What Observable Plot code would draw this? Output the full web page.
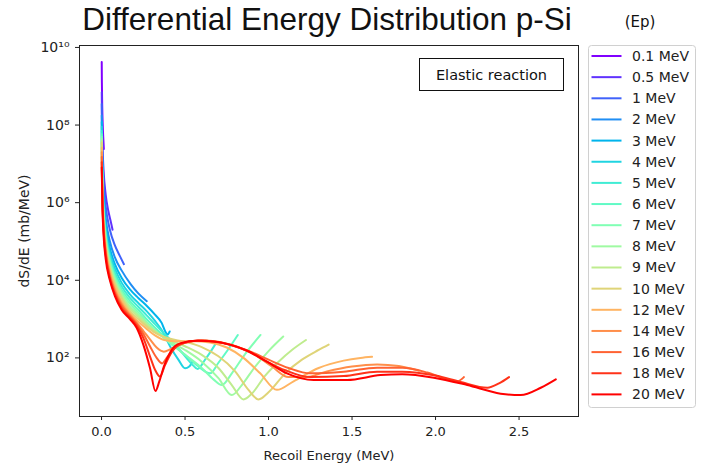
<!DOCTYPE html>
<html><head><meta charset="utf-8">
<script src="https://cdn.jsdelivr.net/npm/d3@7"></script>
<script src="https://cdn.jsdelivr.net/npm/@observablehq/plot@0.6"></script>
<style>
body{margin:0;background:#fff;}
#chart{position:relative;width:702px;height:463px;}
</style></head><body><div id="chart"></div>
<script>
// Legend labels (beam energy Ep)
const beamLabels = ["0.1 MeV","0.5 MeV","1 MeV","2 MeV","3 MeV","4 MeV","5 MeV","6 MeV","7 MeV","8 MeV","9 MeV","10 MeV","12 MeV","14 MeV","16 MeV","18 MeV","20 MeV"];
const lineColors = ["#8000ff","#6032fe","#4062fa","#208ef4","#00b4ec","#20d4e1","#40ecd4","#60fac5","#80ffb4","#9ffaa2","#bfec8e","#dfd478","#ffb462","#ff8e4a","#ff6232","#ff3219","#ff0000"];

// Recoil energy (MeV) and dS/dE (mb/MeV), one pair per Ep
const e0_1 = [0.0011, 0.002, 0.004, 0.007, 0.01, 0.0138];
const s0_1 = [4.2e9, 1.26e9, 3.1e8, 1.0e8, 5e7, 2.4e7];
const e0_5 = [0.0012, 0.003, 0.006, 0.012, 0.025, 0.04, 0.055, 0.066];
const s0_5 = [7e8, 1.12e8, 2.8e7, 7e6, 1.6e6, 6.3e5, 3.3e5, 2e5];
const e1 = [0.0012, 0.003, 0.006, 0.012, 0.025, 0.05, 0.08, 0.11, 0.134];
const s1 = [3.5e8, 5.6e7, 1.4e7, 3.5e6, 8e5, 2e5, 7.9e4, 4.2e4, 2.6e4];
const e2 = [0.0012, 0.003, 0.006, 0.012, 0.025, 0.05, 0.08, 0.12, 0.174, 0.22, 0.271];
const s2 = [1.75e8, 2.8e7, 7e6, 1.75e6, 4e5, 1e5, 3.9e4, 1.8e4, 8e3, 4.6e3, 2.9e3];
const e3 = [0.0012, 0.003, 0.006, 0.012, 0.025, 0.05, 0.08, 0.12, 0.17, 0.22, 0.27, 0.32, 0.36, 0.385, 0.395, 0.408];
const s3 = [1.2e8, 1.86e7, 4.7e6, 1.16e6, 2.7e5, 6.7e4, 2.6e4, 1.16e4, 5.8e3, 3.5e3, 2.2e3, 1.3e3, 800, 450, 400, 480];
const e4 = [0.0012, 0.003, 0.006, 0.012, 0.025, 0.05, 0.08, 0.12, 0.17, 0.22, 0.27, 0.32, 0.36, 0.41, 0.46, 0.5, 0.525, 0.544];
const s4 = [9e7, 1.4e7, 3.5e6, 8.7e5, 2.0e5, 5.0e4, 2.0e4, 8.7e3, 4.35e3, 2.6e3, 1.6e3, 900, 520, 200, 90, 54, 60, 80];
const e5 = [0.0012, 0.003, 0.006, 0.012, 0.025, 0.05, 0.08, 0.12, 0.17, 0.22, 0.27, 0.32, 0.4, 0.48, 0.54, 0.575, 0.62, 0.68];
const s5 = [7e7, 1.12e7, 2.8e6, 7e5, 1.6e5, 4e4, 1.57e4, 7e3, 3.5e3, 2.08e3, 1.25e3, 740, 330, 140, 70, 52, 90, 220];
const e6 = [0.0012, 0.003, 0.006, 0.012, 0.025, 0.05, 0.08, 0.12, 0.17, 0.22, 0.27, 0.32, 0.4, 0.5, 0.58, 0.65, 0.7, 0.76, 0.816];
const s6 = [5.8e7, 9.3e6, 2.3e6, 5.8e5, 1.34e5, 3.35e4, 1.31e4, 5.8e3, 2.9e3, 1.73e3, 1e3, 600, 280, 120, 60, 40, 75, 170, 390];
const e7 = [0.0012, 0.003, 0.006, 0.012, 0.025, 0.05, 0.08, 0.12, 0.17, 0.22, 0.27, 0.32, 0.4, 0.5, 0.6, 0.67, 0.72, 0.78, 0.85, 0.952];
const s7 = [5e7, 8e6, 2e6, 5e5, 1.15e5, 2.9e4, 1.12e4, 5e3, 2.5e3, 1.49e3, 850, 520, 260, 120, 55, 28, 20, 40, 110, 390];
const e8 = [0.0012, 0.003, 0.006, 0.012, 0.025, 0.05, 0.08, 0.12, 0.17, 0.22, 0.27, 0.32, 0.4, 0.5, 0.6, 0.7, 0.78, 0.84, 0.92, 1.0, 1.088];
const s8 = [4.4e7, 7e6, 1.75e6, 4.4e5, 1e5, 2.5e4, 9.8e3, 4.4e3, 2.1e3, 1.3e3, 780, 500, 280, 160, 80, 30, 11, 20, 60, 150, 355];
const e9 = [0.0012, 0.003, 0.006, 0.012, 0.025, 0.05, 0.08, 0.12, 0.17, 0.22, 0.27, 0.32, 0.4, 0.5, 0.6, 0.7, 0.78, 0.85, 0.9, 0.98, 1.06, 1.14, 1.224];
const s9 = [3.9e7, 6.2e6, 1.56e6, 3.9e5, 8.9e4, 2.2e4, 8.7e3, 3.9e3, 1.85e3, 1.15e3, 720, 480, 300, 200, 120, 55, 20, 8.5, 12, 35, 80, 160, 290];
const e10 = [0.0012, 0.003, 0.006, 0.012, 0.025, 0.05, 0.08, 0.12, 0.17, 0.22, 0.27, 0.32, 0.4, 0.5, 0.6, 0.7, 0.8, 0.88, 0.94, 1.0, 1.1, 1.2, 1.3, 1.36];
const s10 = [3.5e7, 5.6e6, 1.4e6, 3.5e5, 8e4, 2e4, 7.9e3, 3.5e3, 1.6e3, 1e3, 650, 450, 320, 260, 190, 110, 45, 15, 8.5, 13, 40, 90, 160, 220];
const e12 = [0.0012, 0.003, 0.006, 0.012, 0.025, 0.05, 0.08, 0.12, 0.17, 0.22, 0.27, 0.32, 0.383, 0.45, 0.55, 0.65, 0.75, 0.85, 0.95, 1.05, 1.15, 1.3, 1.45, 1.55, 1.62];
const s12 = [2.6e7, 4.7e6, 1.17e6, 2.9e5, 6.7e4, 1.68e4, 6.5e3, 2.9e3, 1.4e3, 860, 560, 380, 285, 270, 270, 250, 185, 100, 40, 15, 25, 55, 85, 100, 107];
const e14 = [0.0012, 0.003, 0.006, 0.012, 0.025, 0.05, 0.08, 0.12, 0.17, 0.21, 0.25, 0.29, 0.33, 0.373, 0.41, 0.46, 0.53, 0.62, 0.72, 0.82, 0.92, 1.02, 1.12, 1.22, 1.35, 1.5, 1.65, 1.78, 1.9];
const s14 = [2e7, 4e6, 1e6, 2.5e5, 5.7e4, 1.44e4, 5.6e3, 2.5e3, 1.3e3, 820, 500, 300, 185, 145, 165, 215, 265, 280, 250, 190, 120, 60, 32, 32, 45, 60, 68, 62, 47];
const e16 = [0.0012, 0.003, 0.006, 0.012, 0.025, 0.05, 0.08, 0.12, 0.17, 0.21, 0.25, 0.29, 0.33, 0.363, 0.39, 0.43, 0.5, 0.6, 0.7, 0.8, 0.9, 1.0, 1.12, 1.25, 1.45, 1.65, 1.8, 1.95, 2.08, 2.13, 2.17];
const s16 = [1.5e7, 3.5e6, 8.7e5, 2.2e5, 5e4, 1.26e4, 4.9e3, 2.2e3, 1.2e3, 750, 420, 200, 100, 72, 100, 170, 245, 280, 255, 200, 140, 90, 55, 40, 44, 56, 56, 42, 27, 25, 32];
const e18 = [0.0012, 0.003, 0.006, 0.012, 0.025, 0.05, 0.08, 0.12, 0.17, 0.21, 0.25, 0.29, 0.32, 0.35, 0.38, 0.42, 0.48, 0.58, 0.68, 0.78, 0.88, 0.98, 1.1, 1.25, 1.45, 1.65, 1.8, 2.0, 2.15, 2.31, 2.38, 2.44];
const s18 = [1.1e7, 3.1e6, 7.8e5, 1.94e5, 4.5e4, 1.12e4, 4.4e3, 1.94e3, 1.1e3, 680, 330, 110, 50, 33, 65, 140, 235, 280, 260, 210, 145, 85, 48, 32, 34, 44, 44, 35, 24, 17, 22, 32];
const e20 = [0.0012, 0.003, 0.006, 0.012, 0.025, 0.05, 0.08, 0.12, 0.17, 0.21, 0.25, 0.29, 0.323, 0.345, 0.373, 0.413, 0.473, 0.573, 0.67, 0.77, 0.87, 0.99, 1.11, 1.27, 1.47, 1.67, 1.8, 1.99, 2.19, 2.39, 2.51, 2.63, 2.72];
const s20 = [8e6, 2.8e6, 6.5e5, 1.5e5, 3.5e4, 1e4, 3.9e3, 1.75e3, 1.0e3, 600, 220, 55, 14, 24, 60, 145, 240, 275, 265, 220, 155, 80, 40, 27, 27, 36, 38, 31, 20, 12, 11, 17, 28];

// Axis ticks
const xTicks = [0, 0.5, 1.0, 1.5, 2.0, 2.5];
const yTicks = [1e2, 1e4, 1e6, 1e8, 1e10];

const curves = [[e0_1,s0_1],[e0_5,s0_5],[e1,s1],[e2,s2],[e3,s3],[e4,s4],[e5,s5],[e6,s6],[e7,s7],[e8,s8],[e9,s9],[e10,s10],[e12,s12],[e14,s14],[e16,s16],[e18,s18],[e20,s20]];
const rows = curves.flatMap(([xs, ys], i) => xs.map((x, j) => ({beam: beamLabels[i], x, y: ys[j]})));

const supMap = {"0":"⁰","1":"¹","2":"²","3":"³","4":"⁴","5":"⁵","6":"⁶","7":"⁷","8":"⁸","9":"⁹"};
const powFmt = d => "10" + String(Math.round(Math.log10(d))).split("").map(c => supMap[c]).join("");

const W = 702, H = 463, ML = 79, MR = 124, MT = 45, MB = 47;
const font = "DejaVu Sans, sans-serif";

const svg = Plot.plot({
  width: W, height: H,
  marginLeft: ML, marginRight: MR, marginTop: MT, marginBottom: MB,
  style: {fontFamily: font, fontSize: "13px", color: "#222", background: "#fff", overflow: "visible"},
  x: {domain: [-0.132, 2.856]},
  y: {type: "log", domain: [Math.pow(10, 0.49), Math.pow(10, 10.05)]},
  color: {domain: beamLabels, range: lineColors},
  marks: [
    Plot.axisX({ticks: xTicks, tickFormat: d3.format(".1f"), tickSize: 4, tickPadding: 6, label: "Recoil Energy (MeV)", labelAnchor: "center", labelArrow: "none", labelOffset: 43, fontSize: 13}),
    Plot.axisY({ticks: yTicks, tickFormat: powFmt, tickSize: 4, tickPadding: 6, label: "dS/dE (mb/MeV)", labelAnchor: "center", labelArrow: "none", labelOffset: 60, fontSize: 14}),
    Plot.line(rows, {x: "x", y: "y", z: "beam", stroke: "beam", strokeWidth: 2, curve: "monotone-x"}),
    Plot.frame({stroke: "#222", strokeWidth: 1})
  ]
});
document.getElementById("chart").appendChild(svg);

const root = d3.select(svg);
// Title
root.append("text").attr("x", 327).attr("y", 30)
  .attr("text-anchor", "middle").attr("font-family", "Liberation Sans, Arial, sans-serif")
  .attr("font-size", 31.5).attr("fill", "#111").text("Differential Energy Distribution p-Si");

// Annotation box
const ann = root.append("g");
ann.append("rect").attr("x", 419.5).attr("y", 58.5).attr("width", 144).attr("height", 32)
  .attr("fill", "#fff").attr("stroke", "#111").attr("stroke-width", 1);
ann.append("text").attr("x", 491.5).attr("y", 75).attr("dy", "0.35em").attr("text-anchor", "middle")
  .attr("font-family", font).attr("font-size", 14.5).attr("fill", "#111").text("Elastic reaction");

// Legend
const lg = root.append("g");
lg.append("text").attr("x", 640).attr("y", 22).attr("dy", "0.35em").attr("text-anchor", "middle")
  .attr("font-family", font).attr("font-size", 15).attr("fill", "#111").text("(Ep)");
lg.append("rect").attr("x", 588.5).attr("y", 45.5).attr("width", 107).attr("height", 362).attr("rx", 3)
  .attr("fill", "#fff").attr("fill-opacity", 0.8).attr("stroke", "#d0d0d0");
beamLabels.forEach((lab, i) => {
  const y = 56 + 21.15 * i;
  lg.append("line").attr("x1", 591.5).attr("x2", 621.5).attr("y1", y).attr("y2", y)
    .attr("stroke", lineColors[i]).attr("stroke-width", 2);
  lg.append("text").attr("x", 632).attr("y", y).attr("dy", "0.35em").attr("text-anchor", "start")
    .attr("font-family", font).attr("font-size", 14).attr("fill", "#222").text(lab);
});
</script>
</body></html>
